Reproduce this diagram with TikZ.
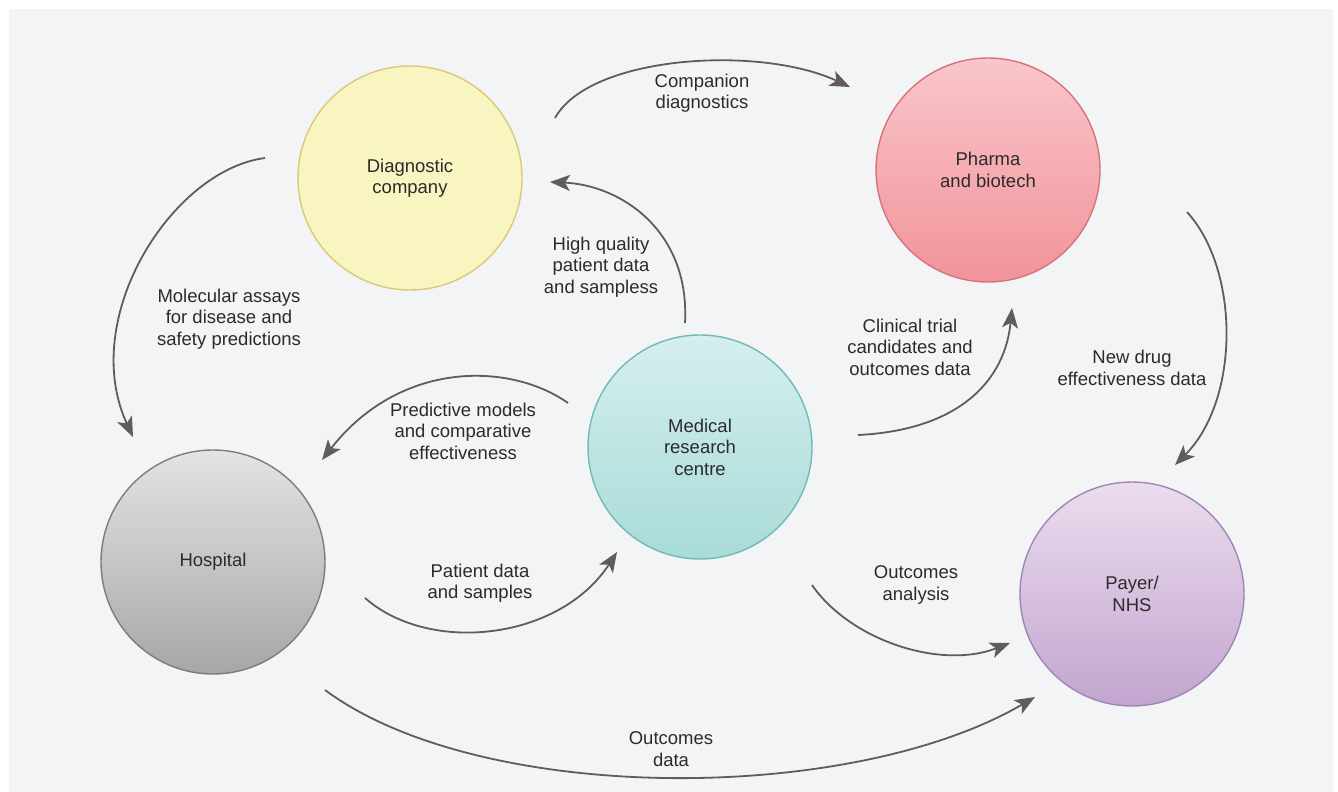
\documentclass[tikz,border=0pt]{standalone}
\usepackage{fontspec}
\setmainfont{Liberation Sans}
\usetikzlibrary{arrows.meta}
\definecolor{bg}{HTML}{F3F4F6}
\definecolor{txt}{HTML}{2B2B2B}
\definecolor{arr}{HTML}{615B5D}
\definecolor{diagf}{HTML}{F8F5C1}\definecolor{diagd}{HTML}{DCC87A}
\definecolor{phat}{HTML}{F9C6CA}\definecolor{phab}{HTML}{F1939A}\definecolor{phad}{HTML}{D6737C}
\definecolor{medt}{HTML}{D5EFEF}\definecolor{medb}{HTML}{A8DBD7}\definecolor{medd}{HTML}{72BAB6}
\definecolor{host}{HTML}{E4E4E4}\definecolor{hosb}{HTML}{A6A6A6}\definecolor{hosd}{HTML}{7F7B7B}
\definecolor{payt}{HTML}{ECDCEE}\definecolor{payb}{HTML}{C2A5CF}\definecolor{payd}{HTML}{9D88B5}
\tikzset{
  actor/.style={circle, minimum size=224pt, inner sep=0pt, line width=1.4pt, text=txt, align=center,
    font=\fontsize{18.5}{21.5}\selectfont},
  lbl/.style={text=txt, align=center, inner sep=0pt, font=\fontsize{18.5}{21.5}\selectfont},
  flow/.style={draw=arr, line width=1.8pt, -{Stealth[length=20pt,width=16pt,inset=5pt]}}
}
\begin{document}
\begin{tikzpicture}[x=1pt,y=-1pt]
\useasboundingbox (0,0) rectangle (1338,792);
\fill[white] (0,0) rectangle (1338,792);
\fill[bg] (9,9) rectangle (1333,792);
% actors
\node[actor, fill=diagf, draw=diagd] (diag) at (410,178) {Diagnostic\\company};
\node[actor, top color=phat, bottom color=phab, draw=phad] (pharma) at (988,170) {Pharma\\and biotech};
\node[actor, top color=medt, bottom color=medb, draw=medd] (med) at (700,447) {Medical\\research\\centre};
\node[actor, top color=host, bottom color=hosb, draw=hosd] (hosp) at (213,562) {Hospital};
\node[actor, top color=payt, bottom color=payb, draw=payd] (payer) at (1132,594) {Payer/\\NHS};
% connector ends
\coordinate (mol-s) at (265,158);   \coordinate (mol-e) at (133,437);
\coordinate (comp-s) at (555,118);  \coordinate (comp-e) at (850,87);
\coordinate (hq-s) at (685,323);    \coordinate (hq-e) at (550,182);
\coordinate (pred-s) at (568,403);  \coordinate (pred-e) at (322,460);
\coordinate (pat-s) at (365,598);   \coordinate (pat-e) at (617,552);
\coordinate (clin-s) at (858,435);  \coordinate (clin-e) at (1012,308);
\coordinate (nd-s) at (1187,212);   \coordinate (nd-e) at (1175,465);
\coordinate (oa-s) at (812,585);    \coordinate (oa-e) at (1010,643);
\coordinate (od-s) at (325,690);    \coordinate (od-e) at (1035,697);
% connectors
\draw[flow] (mol-s) .. controls (172,170) and (78,318) .. (mol-e);
\draw[flow] (comp-s) .. controls (590,55) and (760,45) .. (comp-e);
\draw[flow] (hq-s) .. controls (690,230) and (620,185) .. (hq-e);
\draw[flow] (pred-s) .. controls (510,362) and (400,360) .. (pred-e);
\draw[flow] (pat-s) .. controls (430,655) and (560,640) .. (pat-e);
\draw[flow] (clin-s) .. controls (960,430) and (1005,380) .. (clin-e);
\draw[flow] (nd-s) .. controls (1240,270) and (1240,400) .. (nd-e);
\draw[flow] (oa-s) .. controls (850,640) and (940,670) .. (oa-e);
\draw[flow] (od-s) .. controls (480,805) and (850,805) .. (od-e);
% labels
\node[lbl] (l-comp) at (702,93) {Companion\\diagnostics};
\node[lbl] (l-hq) at (601,267) {High quality\\patient data\\and sampless};
\node[lbl] (l-mol) at (229,319) {Molecular assays\\for disease and\\safety predictions};
\node[lbl] (l-clin) at (910,347) {Clinical trial\\candidates and\\outcomes data};
\node[lbl] (l-nd) at (1132,368) {New drug\\effectiveness data};
\node[lbl] (l-pred) at (463,431) {Predictive models\\and comparative\\effectiveness};
\node[lbl] (l-pat) at (480,583) {Patient data\\and samples};
\node[lbl] (l-oa) at (916,585) {Outcomes\\analysis};
\node[lbl] (l-od) at (671,749) {Outcomes\\data};
\end{tikzpicture}
\end{document}
